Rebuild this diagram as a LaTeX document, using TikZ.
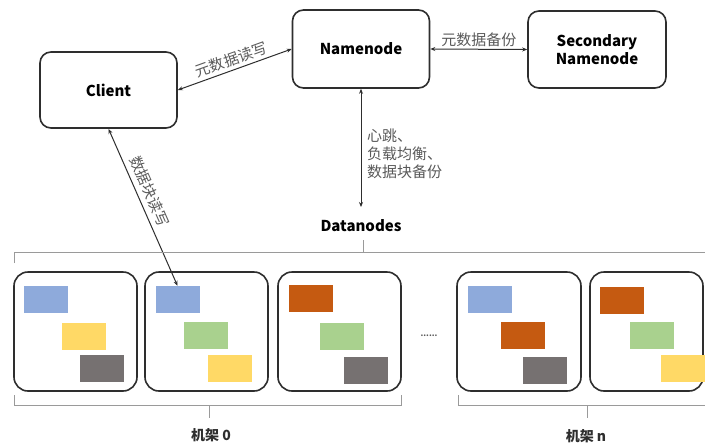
\documentclass[tikz,border=0pt]{standalone}
\usepackage{fontspec}
\setmainfont{Noto Sans CJK SC}
\usetikzlibrary{arrows.meta}
\definecolor{edge}{HTML}{2E2E2E}
\definecolor{lbl}{HTML}{5A5A5A}
\definecolor{brk}{HTML}{9A9A9A}
\definecolor{cblue}{HTML}{8EAADB}
\definecolor{cyellow}{HTML}{FFD966}
\definecolor{cgray}{HTML}{767171}
\definecolor{cgreen}{HTML}{A9D18E}
\definecolor{corange}{HTML}{C55A11}
\tikzset{
  mainbox/.style={draw=edge, line width=1.6pt, rounded corners=11pt, inner sep=0pt,
    font=\fontsize{15}{18}\selectfont\bfseries, align=center},
  rackbox/.style={draw=edge, line width=1.6pt, rounded corners=14pt},
  link/.style={line width=1pt, edge, {Stealth[length=5pt,width=4pt]}-{Stealth[length=5pt,width=4pt]}},
  linklabel/.style={font=\fontsize{15}{18}\selectfont, text=lbl, inner sep=2pt},
  bracket/.style={draw=brk, line width=0.9pt},
  blk/.style={inner sep=0pt, minimum width=44pt, minimum height=27pt},
}
\begin{document}
\begin{tikzpicture}[x=1pt,y=-1pt]
\useasboundingbox[fill=white] (0,0) rectangle (705,445);

% head nodes
\node[mainbox, minimum width=137pt, minimum height=76pt] (client) at (108.5,90) {Client};
\node[mainbox, minimum width=137pt, minimum height=78pt] (namenode) at (361,49) {Namenode};
\node[mainbox, minimum width=138pt, minimum height=77pt] (secondary) at (597,49.5) {Secondary\\Namenode};

\node[font=\fontsize{15}{18}\selectfont\bfseries, inner sep=0pt, outer sep=0pt] (datanodes) at (361,226) {Datanodes};
\coordinate (dntop) at (361,207);

% racks of datanodes
\node[rackbox, minimum width=123pt, minimum height=119pt] (r1) at (75.5,331.5) {};
\node[rackbox, minimum width=123pt, minimum height=119pt] (r2) at (206.5,331.5) {};
\node[rackbox, minimum width=123pt, minimum height=119pt] (r3) at (339.5,331.5) {};
\node[rackbox, minimum width=124pt, minimum height=119pt] (r4) at (519,331.5) {};
\node[rackbox, minimum width=113pt, minimum height=119pt] (r5) at (646.5,331.5) {};

% blocks in each datanode
\node[blk, fill=cblue]   (b1a) at (46,299.5) {};
\node[blk, fill=cyellow] (b1b) at (84,336.5) {};
\node[blk, fill=cgray]   (b1c) at (101.5,368.5) {};

\node[blk, fill=cblue]   (b2a) at (177.5,299.5) {};
\node[blk, fill=cgreen]  (b2b) at (206,335.5) {};
\node[blk, fill=cyellow] (b2c) at (229.5,368.5) {};

\node[blk, fill=corange] (b3a) at (310.5,298.5) {};
\node[blk, fill=cgreen]  (b3b) at (341.5,336.5) {};
\node[blk, fill=cgray]   (b3c) at (365.5,370.5) {};

\node[blk, fill=cblue]   (b4a) at (490,299.5) {};
\node[blk, fill=corange] (b4b) at (523,335.5) {};
\node[blk, fill=cgray]   (b4c) at (544.5,370) {};

\node[blk, fill=corange] (b5a) at (622,300) {};
\node[blk, fill=cgreen]  (b5b) at (652,335) {};
\node[blk, fill=cyellow, minimum width=46pt] (b5c) at (684,368.5) {};

\node[font=\fontsize{8}{8}\selectfont\bfseries, text=edge!80, inner sep=0pt] (dots) at (429,336) {......};

% connectors
\draw[link] (client.east) -- node[linklabel, sloped, above=1pt] {元数据读写} (namenode.west);
\draw[link] (namenode.east) -- node[linklabel, above] {元数据备份} (secondary.west);
\draw[link] (namenode.south) -- (dntop);
\node[linklabel, anchor=north west, align=left, inner sep=0pt] (hb) at (367,129)
  {心跳、\\负载均衡、\\数据块备份};
\draw[link] (client.south) -- node[linklabel, sloped, above=3pt, pos=0.43] {数据块读写} (b2a.north);

% brackets
\coordinate (tl) at (14,263);
\coordinate (tr) at (705,252);
\draw[bracket] (tl) -- (14,252) -- (tr);
\draw[bracket] (363,252) -- (363,240);

\draw[bracket] (14,395) -- (14,405) -- (401,405) -- (401,395);
\draw[bracket] (209,405) -- (209,418);
\node[font=\fontsize{14}{16}\selectfont\bfseries, text=edge] (rack0) at (211,435) {机架 0};

\draw[bracket] (458,395) -- (458,405) -- (705,405);
\draw[bracket] (587,405) -- (587,418);
\node[font=\fontsize{14}{16}\selectfont\bfseries, text=edge] (rackn) at (586,436) {机架 n};
\end{tikzpicture}
\end{document}
